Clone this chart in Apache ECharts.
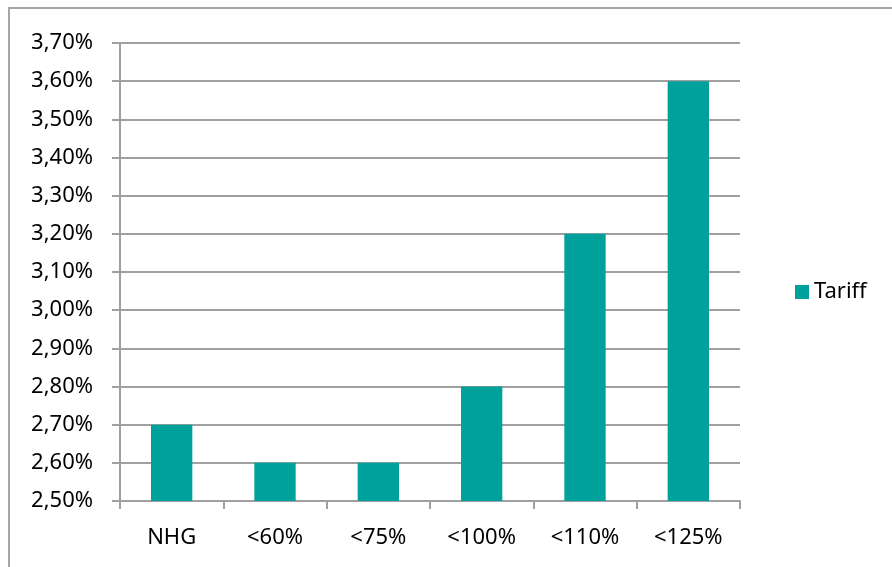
<!DOCTYPE html>
<html><head><meta charset="utf-8">
<script src="https://cdn.jsdelivr.net/npm/echarts@6/dist/echarts.min.js"></script>
<style>html,body{margin:0;padding:0;background:#fff}#c{width:892px;height:567px}</style>
</head><body><div id="c"></div>
<script>
const categories = ['NHG', '<60%', '<75%', '<100%', '<110%', '<125%'];
const tariff = [2.70, 2.60, 2.60, 2.80, 3.20, 3.60];
const seriesName = 'Tariff';
const yMin = 2.5, yMax = 3.7, yStep = 0.1;

const chart = echarts.init(document.getElementById('c'), null, {renderer: 'canvas'});
const font = 'Noto Sans';
chart.setOption({
  animation: false,
  backgroundColor: '#fff',
  graphic: [{
    type: 'rect', silent: true,
    shape: {x: 9, y: 8, width: 1000, height: 1000},
    style: {fill: 'none', stroke: '#a6a6a6', lineWidth: 2}
  }],
  grid: {left: 120, right: 152, top: 43, bottom: 66, containLabel: false},
  legend: {
    data: [seriesName], orient: 'vertical', left: 790, top: 276,
    itemWidth: 14, itemHeight: 14, icon: 'rect',
    textStyle: {fontFamily: font, fontSize: 22, color: '#000'}
  },
  xAxis: {
    type: 'category', data: categories,
    axisLine: {lineStyle: {color: '#a0a0a0', width: 2}},
    axisTick: {show: true, length: 8, lineStyle: {color: '#a0a0a0', width: 2}},
    axisLabel: {fontFamily: font, fontSize: 22, color: '#000', margin: 26}
  },
  yAxis: {
    type: 'value', min: yMin, max: yMax, interval: yStep,
    axisLine: {show: true, lineStyle: {color: '#a0a0a0', width: 2}},
    axisTick: {show: true, length: 8, lineStyle: {color: '#a0a0a0', width: 2}},
    splitLine: {lineStyle: {color: '#a0a0a0', width: 2}},
    axisLabel: {fontFamily: font, fontSize: 22, color: '#000', margin: 27,
      formatter: v => v.toFixed(2).replace('.', ',') + '%'}
  },
  series: [{
    name: seriesName, type: 'bar', data: tariff, barWidth: '40%',
    itemStyle: {color: '#00a19a'}
  }]
});
</script></body></html>
